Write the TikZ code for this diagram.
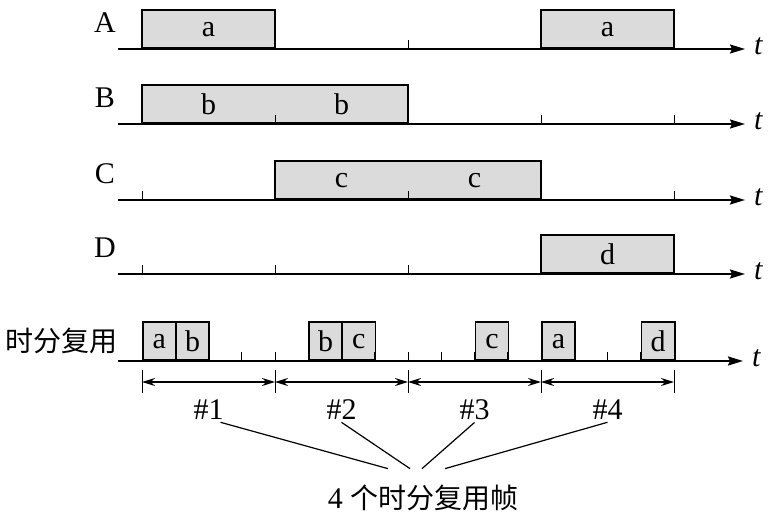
\documentclass[tikz,border=0pt]{standalone}
\usepackage{fontspec}
\setmainfont{Liberation Serif}
\newfontfamily\cjk{Noto Sans CJK SC}
\usetikzlibrary{arrows.meta}

\begin{document}
\begin{tikzpicture}[
    x=0.5pt, y=-0.5pt, % one unit = one pixel of the layout, y grows downward
    font=\fontsize{15}{17}\selectfont,
    % Style for the time axes
    tline/.style   = {-{Stealth[length=7.5pt,width=4.5pt,inset=1pt]}, line width=1pt},
    tk/.style      = {line width=0.5pt},
    % Gray signal boxes sitting on an axis
    sig/.style     = {draw, line width=0.8pt, fill=black!14, inner sep=0pt, minimum height=19pt},
    dimarrow/.style = {{Stealth[length=6.5pt,width=4pt]}-{Stealth[length=6.5pt,width=4pt]}, line width=0.9pt},
    lab/.style     = {draw=none, inner sep=1pt, align=center},
    zh/.style      = {font=\fontsize{14}{16}\selectfont\cjk},
    callout/.style = {line width=0.6pt}
  ]
  \useasboundingbox (0,0) rectangle (770,518);

  % ===== Users A--D =====
  \foreach \row/\y in {A/49, B/124, C/200, D/274}{
    \coordinate (\row0) at (118,\y);
    \coordinate (\row1) at (745,\y);
    \draw[tline] (\row0) -- (\row1) node[lab, right=3pt, yshift=1.5pt, font=\fontsize{15}{17}\selectfont\itshape] (t\row) {t};
    \node[lab] (lab\row) at (105,{\y-26}) {\row};
  }

  % Boxes (single slot = 133 px)
  \node[sig, minimum width=66.5pt, anchor=south] (a1) at (208.5,49) {a};
  \node[sig, minimum width=66.5pt, anchor=south] (a2) at (607.5,49) {a};
  \node[sig, minimum width=133pt, anchor=south] (b1) at (275,124) {};
  \node[sig, minimum width=133pt, anchor=south] (c1) at (408,200) {};
  \node[sig, minimum width=66.5pt, anchor=south] (d1) at (607.5,274) {d};
  \node[lab] (b1l) at ([xshift=-33.25pt]b1.center) {b};
  \node[lab] (b1r) at ([xshift=33.25pt]b1.center) {b};
  \node[lab] (c1l) at ([xshift=-33.25pt]c1.center) {c};
  \node[lab] (c1r) at ([xshift=33.25pt]c1.center) {c};

  % Slot ticks
  \foreach \y in {49,124,200,274}{
    \foreach \x in {142,275,408,541,674}{
      \draw[tk] (\x,\y) -- ++(0,-9);
    }
  }

  % ===== Multiplexed line =====
  \coordinate (M0) at (118,361);
  \coordinate (M1) at (743,361);
  \draw[tline] (M0) -- (M1) node[lab, right=3pt, yshift=1.5pt, font=\fontsize{15}{17}\selectfont\itshape] (tM) {t};
  \node[lab, zh] (labM) at (61,341) {时分复用};

  \foreach \k/\ch in {0/a, 1/b, 5/b, 6/c, 10/c, 12/a, 15/d}{
    \node[sig, minimum width=16.6pt, anchor=south west] (m\k) at ({142+33.25*\k},361) {\ch};
  }
  \foreach \k in {0,...,16}{
    \draw[tk] ({142+33.25*\k},361) -- ++(0,-9);
  }

  % ===== Frame dimensions =====
  \foreach \i in {0,...,4}{
    \coordinate (d\i) at ({142+133*\i},382);
    \draw[tk] ({142+133*\i},370) -- ({142+133*\i},393);
  }
  \foreach \i [evaluate=\i as \j using int(\i+1)] in {0,...,3}{
    \draw[dimarrow] (d\i) -- (d\j);
    \node[lab] (f\j) at ({208.5+133*\i},410) {\#\j};
  }

  % Caption and callouts
  \node[lab] (frames) at (423,498) {4 {\fontsize{14}{16}\selectfont\cjk 个时分复用帧}};
  \draw[callout] ([xshift=6pt]f1.south) -- ([xshift=-17.5pt,yshift=7pt]frames.north);
  \draw[callout] (f2.south) -- ([xshift=-6.5pt,yshift=7pt]frames.north);
  \draw[callout] (f3.south) -- ([xshift=-0.5pt,yshift=7pt]frames.north);
  \draw[callout] (f4.south) -- ([xshift=11pt,yshift=7pt]frames.north);

\end{tikzpicture}
\end{document}
